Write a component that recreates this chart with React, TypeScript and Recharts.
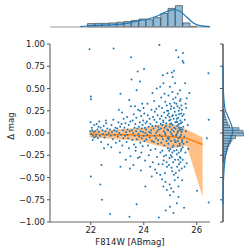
import React from 'react';
import {
  ComposedChart, BarChart, Bar, Scatter, Area, Line, XAxis, YAxis, ReferenceLine,
} from 'recharts';

// ---- data ----
const xDomain: [number, number] = [20.46, 26.5];
const xTicks = [22, 24, 26];
const yTicks = [-1, -0.75, -0.5, -0.25, 0, 0.25, 0.5, 0.75, 1];

// scatter points [F814W, delta mag]
const ptsBright: number[][] = [
  [21.95,0.94],[22.0,0.41],[22.01,0.38],[22.0,-0.49],[21.98,0.02],[22.02,-0.01],[22.05,0.03],[22.08,-0.03],[21.99,0.12],[22.1,0.01],[22.12,-0.05],[22.04,0.06],[22.07,-0.08],[22.13,0.09],
  [22.17,0.02],[22.2,-0.02],[22.22,0.1],[22.25,0.04],[22.27,-0.06],[22.3,0.01],[22.32,0.13],[22.34,-0.03],[22.37,0.06],[22.39,-0.1],[22.36,-0.58],[22.4,-0.36],[22.19,-0.04],[22.29,0.07],
  [22.42,-0.75],[22.44,0.03],[22.46,-0.01],[22.49,0.08],[22.52,-0.05],[22.55,0.02],[22.57,0.14],[22.6,-0.02],[22.62,0.05],[22.65,-0.13],[22.68,0.0],[22.5,-0.17],[22.58,0.11],
  [22.73,-0.91],[22.86,0.95],[22.72,0.04],[22.75,-0.03],[22.78,0.09],[22.8,0.01],[22.83,-0.07],[22.85,0.15],[22.88,0.03],[22.9,-0.02],[22.93,0.06],[22.95,-0.11],[22.97,0.02],[22.77,-0.16],
  [23.06,0.26],[23.12,0.44],[23.18,0.23],[23.12,-0.38],[23.0,0.05],[23.02,-0.04],[23.04,0.12],[23.07,0.0],[23.09,-0.09],[23.11,0.07],[23.14,-0.02],[23.16,0.1],[23.19,-0.14],[23.21,0.03],[23.23,-0.06],[23.24,0.16],[23.1,-0.22],
];
const ptsMid: number[][] = [
  [23.45,0.37],[23.51,0.3],[23.52,0.85],[23.46,-0.94],[23.48,-0.4],[23.27,0.06],[23.29,-0.03],[23.31,0.11],[23.33,0.01],[23.35,-0.1],[23.37,0.18],[23.39,0.04],[23.41,-0.06],[23.43,0.09],[23.44,-0.17],[23.47,0.02],[23.49,0.13],[23.5,-0.26],[23.32,-0.3],[23.38,-0.02],
  [23.54,0.6],[23.73,0.48],[23.77,0.69],[23.73,-0.8],[23.55,0.03],[23.57,-0.08],[23.58,0.14],[23.6,0.0],[23.62,0.21],[23.63,-0.13],[23.65,0.06],[23.66,-0.03],[23.68,0.1],[23.69,-0.2],[23.71,0.02],[23.72,0.17],[23.74,-0.07],[23.76,0.05],[23.78,-0.28],[23.79,0.26],[23.8,-0.01],[23.61,-0.36],[23.67,0.3],[23.7,-0.16],
  [23.86,0.58],[23.86,0.25],[23.94,0.33],[24.01,0.72],[24.06,-0.6],[23.82,0.07],[23.83,-0.04],[23.85,0.12],[23.87,-0.11],[23.88,0.02],[23.9,0.19],[23.91,-0.22],[23.92,0.05],[23.93,-0.06],[23.95,0.09],[23.96,-0.15],[23.97,0.01],[23.98,0.14],[24.0,-0.03],[24.02,0.22],[24.03,-0.09],[24.04,0.06],[24.05,-0.31],[24.07,0.11],[23.89,-0.42],[23.99,0.28],[24.06,0.0],[23.84,-0.27],
  [24.3,-0.49],[24.33,0.45],[24.09,0.04],[24.1,-0.07],[24.12,0.13],[24.13,-0.02],[24.15,0.2],[24.16,-0.14],[24.18,0.07],[24.19,-0.25],[24.2,0.01],[24.22,0.16],[24.23,-0.05],[24.25,0.1],[24.26,-0.19],[24.28,0.03],[24.29,0.26],[24.31,-0.09],[24.32,0.08],[24.34,-0.33],[24.35,0.18],[24.14,0.33],[24.24,-0.38],[24.27,0.0],
  [24.49,0.5],[24.62,0.52],[24.59,0.99],[24.49,-0.45],[24.62,-0.47],[24.57,-0.95],[24.37,0.05],[24.38,-0.1],[24.4,0.15],[24.41,-0.03],[24.42,0.24],[24.44,-0.18],[24.45,0.08],[24.46,-0.06],[24.48,0.12],[24.5,-0.27],[24.51,0.02],[24.52,0.2],[24.53,-0.12],[24.55,0.07],[24.56,-0.35],[24.58,0.3],[24.6,-0.02],[24.61,0.16],[24.63,-0.22],[24.39,0.36],[24.43,-0.41],[24.47,0.27],[24.54,-0.08],[24.57,0.04],[24.64,0.1],[24.46,0.0],
];
const ptsFaint: number[][] = [
  [24.72,0.65],[24.74,0.56],[24.89,0.67],[24.74,-0.6],[24.87,-0.64],[24.83,-0.87],[24.65,0.05],[24.66,-0.11],[24.67,0.19],[24.68,-0.04],[24.69,0.28],[24.7,-0.2],[24.71,0.09],[24.72,-0.07],[24.73,0.14],[24.75,-0.31],[24.76,0.02],[24.77,0.23],[24.78,-0.14],[24.79,0.06],[24.8,-0.45],[24.81,0.35],[24.82,-0.02],[24.83,0.17],[24.84,-0.25],[24.85,0.11],[24.86,-0.09],[24.87,0.31],[24.88,-0.38],[24.89,0.04],[24.9,0.2],[24.91,-0.17],[24.66,0.4],[24.69,-0.52],[24.76,-0.26],[24.78,0.44],[24.8,0.0],[24.84,0.08],[24.86,-0.33],[24.88,0.25],[24.71,-0.35],[24.74,0.12],[24.82,-0.55],[24.9,-0.06],
  [25.06,0.68],[25.14,0.7],[25.09,0.63],[24.99,0.52],[25.18,0.56],[24.99,-0.7],[25.12,-0.66],[25.12,-0.9],[24.99,-0.83],
  [24.92,0.03],[24.93,-0.12],[24.94,0.22],[24.95,-0.05],[24.96,0.14],[24.97,-0.28],[24.98,0.07],[24.99,0.33],[25.0,-0.18],[25.01,0.01],[25.02,0.27],[25.03,-0.09],[25.04,0.11],[25.05,-0.39],[25.06,0.04],[25.07,0.19],[25.08,-0.22],[25.09,0.09],[25.1,-0.03],[25.11,0.38],[25.12,-0.14],[25.13,0.16],[25.14,-0.47],[25.15,0.06],[25.16,-0.08],[25.17,0.24],[25.18,-0.3],[25.19,0.12],
  [24.93,0.42],[24.95,-0.36],[24.97,0.18],[24.98,-0.58],[25.0,0.1],[25.02,-0.25],[25.04,0.3],[25.05,-0.01],[25.07,-0.43],[25.08,0.46],[25.1,0.2],[25.11,-0.33],[25.13,0.02],[25.15,-0.2],[25.16,0.34],[25.17,-0.53],[25.19,-0.1],[24.94,-0.07],[24.96,-0.2],[25.01,0.15],[25.03,-0.62],[25.09,-0.16],[25.14,0.28],[24.92,0.25],[25.06,-0.27],
  [25.22,0.93],[25.31,0.85],[25.31,-0.72],[25.31,-0.6],[25.45,-0.53],[25.25,-0.79],
  [25.2,0.05],[25.21,-0.1],[25.22,0.2],[25.23,-0.02],[25.24,0.13],[25.25,-0.24],[25.26,0.08],[25.27,0.3],[25.28,-0.15],[25.29,0.02],[25.3,0.17],[25.31,-0.06],[25.32,0.25],[25.33,-0.35],[25.34,0.1],[25.35,-0.12],[25.36,0.36],[25.37,-0.04],[25.38,0.14],[25.39,-0.28],[25.4,0.06],[25.41,0.22],[25.42,-0.18],[25.43,0.01],[25.44,0.12],[25.45,-0.08],[25.46,0.19],[25.47,-0.3],
  [25.2,0.4],[25.21,-0.45],[25.23,0.33],[25.24,-0.19],[25.26,-0.38],[25.27,0.0],[25.28,0.44],[25.29,-0.5],[25.3,0.09],[25.32,-0.22],[25.33,0.06],[25.34,-0.42],[25.35,0.28],[25.36,-0.14],[25.37,0.48],[25.38,-0.33],[25.39,0.03],[25.4,-0.2],[25.41,-0.02],[25.42,0.31],[25.43,-0.4],[25.44,-0.1],[25.46,0.04],[25.22,-0.03],[25.25,0.16],[25.29,-0.09],[25.33,0.21],[25.36,-0.27],[25.4,0.11],[25.44,0.26],[25.47,-0.16],[25.3,-0.3],[25.26,0.12],[25.39,0.38],[25.35,0.04],
  [25.48,0.9],[25.47,0.81],[25.5,0.79],[25.56,0.56],[25.72,0.45],[25.62,0.39],[25.52,-0.84],[25.62,-0.34],[25.49,0.07],[25.5,-0.12],[25.51,0.21],[25.53,-0.04],[25.55,0.15],[25.57,-0.22],[25.59,0.02],[25.6,0.28],[25.63,-0.1],[25.66,0.09],[25.68,-0.18],[25.54,-0.38],[25.58,0.33],
  [26.01,-0.65],[26.45,-0.78],[26.44,0.67],[26.45,0.15],[26.38,-0.06],
];

// running median and spread band
const bandX = [21.95, 22.5, 23.0, 23.5, 24.0, 24.5, 25.0, 25.3, 25.62, 26.22];
const bandMed = [-0.01, -0.02, -0.02, -0.02, -0.03, -0.03, -0.04, -0.05, -0.06, -0.13];
const bandLo = [-0.05, -0.06, -0.07, -0.08, -0.1, -0.14, -0.17, -0.16, -0.14, -0.72];
const bandHi = [0.03, 0.03, 0.04, 0.05, 0.06, 0.09, 0.11, 0.08, 0.04, -0.05];

// top marginal histogram (F814W)
const topBinCenters = [22.01, 22.29, 22.56, 22.84, 23.12, 23.39, 23.67, 23.95, 24.22, 24.5, 24.78, 25.05, 25.33, 25.61, 25.88];
const topBinCounts = [15, 16, 16, 18, 21, 24, 29, 35, 32, 41, 59, 82, 94, 18, 3];
const topKdeX = [21.6, 21.85, 22.35, 22.85, 23.36, 23.81, 24.11, 24.49, 24.8, 25.06, 25.18, 25.37, 25.62, 25.87, 26.12, 26.5];
const topKdeY = [1.3, 4.4, 7.5, 10, 16, 28, 34, 47, 65, 75, 76, 69, 44, 18, 6, 1.3];

// right marginal histogram (delta mag)
const rightBinCenters = [0.255, 0.225, 0.195, 0.165, 0.135, 0.105, 0.075, 0.045, 0.015, -0.015, -0.045, -0.075, -0.105, -0.135, -0.165, -0.195, -0.225, -0.255, -0.285, -0.315];
const rightBinCounts = [4, 6, 8, 11, 15, 20, 26, 64, 80, 82, 50, 36, 30, 24, 19, 16, 13, 10, 7, 5];
const rightKdeY = [0.75, 0.6, 0.45, 0.35, 0.26, 0.15, 0.07, 0.015, -0.04, -0.115, -0.23, -0.38, -0.5, -0.65, -0.8];
const rightKdeX = [0, 0.6, 2, 4.4, 9, 25, 36, 39, 33, 23, 12, 5, 2.4, 0.8, 0];

// ---- derived tables ----
const scatterData = [...ptsBright, ...ptsMid, ...ptsFaint].map(([x, y]) => ({ x, y }));
const bandData = bandX.map((x, i) => ({ x, med: bandMed[i], lo: bandLo[i], hi: bandHi[i] }));
const topBins = topBinCenters.map((c, i) => ({ c, n: topBinCounts[i] }));
const topKde = topKdeX.map((x, i) => ({ x, d: topKdeY[i] }));
const rightBins = rightBinCenters.map((c, i) => ({ c, n: rightBinCounts[i] }));
const rightKde = rightKdeY.map((m, i) => ({ m, d: rightKdeX[i] }));

const FONT = 'DejaVu Sans';
const tickStyle = { fontSize: 8.5, fontFamily: FONT, fill: '#222' };
const fmtY = (v: number) => (v < 0 ? '\u2212' : '') + Math.abs(v).toFixed(2);
const HIST_FILL = '#8fbbd9';
const HIST_EDGE = '#2e2e2e';
const BLUE = '#1f77b4';
const ORANGE = '#ff7f0e';

const Dot = (p: any) => <circle cx={p.cx} cy={p.cy} r={1} fill={BLUE} />;

const abs: React.CSSProperties = { position: 'absolute', left: 0, top: 0 };

export default function App() {
  return (
    <div style={{ position: 'absolute', left: 0, top: 0, width: 249, height: 252, background: '#fff' }}>
      {/* main joint scatter */}
      <div style={abs}>
        <ComposedChart width={249} height={252} data={bandData}
          margin={{ top: 44, right: 39, left: 10, bottom: 2 }}>
          <XAxis type="number" dataKey="x" domain={xDomain} ticks={xTicks} allowDataOverflow
            height={28} tickSize={3} tickMargin={2} tick={tickStyle}
            axisLine={{ stroke: '#9a9a9a', strokeWidth: 1.5 }} tickLine={{ stroke: '#555' }}
            label={{ value: 'F814W [ABmag]', position: 'insideBottom', offset: 5, style: { fontSize: 8.5, fontFamily: FONT, fill: '#222' } }} />
          <YAxis type="number" domain={[-1, 1]} ticks={yTicks} allowDataOverflow width={40}
            tickSize={3} tickMargin={2} tick={tickStyle} tickFormatter={fmtY}
            axisLine={{ stroke: '#555' }} tickLine={{ stroke: '#555' }}
            label={{ value: '\u0394 mag', angle: -90, position: 'center', dx: -19, dy: -7, style: { fontSize: 8.5, fontFamily: FONT, fill: '#222' } }} />
          <Scatter data={scatterData} dataKey="y" shape={Dot} isAnimationActive={false} />
          <Area type="linear" dataKey={(d: any) => [d.lo, d.hi]} fill={ORANGE} fillOpacity={0.5}
            stroke="none" isAnimationActive={false} />
          <Line type="linear" dataKey="med" stroke={ORANGE} strokeWidth={1.5} dot={false} isAnimationActive={false} />
        </ComposedChart>
      </div>

      {/* top marginal histogram */}
      <div style={abs}>
        <BarChart width={249} height={28} data={topBins} barCategoryGap={0} barGap={0}
          margin={{ top: 2, right: 39, left: 50, bottom: 1 }}>
          <XAxis type="number" dataKey="c" domain={xDomain} allowDataOverflow hide />
          <YAxis type="number" domain={[0, 110]} hide />
          <ReferenceLine y={0} stroke="#9a9a9a" strokeWidth={1.2} />
          <Bar dataKey="n" fill={HIST_FILL} stroke={HIST_EDGE} strokeWidth={0.6} isAnimationActive={false} />
        </BarChart>
      </div>
      <div style={abs}>
        <ComposedChart width={249} height={28} data={topKde}
          margin={{ top: 2, right: 39, left: 50, bottom: 1 }}>
          <XAxis type="number" dataKey="x" domain={xDomain} allowDataOverflow hide />
          <YAxis type="number" domain={[0, 110]} hide />
          <Line type="monotone" dataKey="d" stroke={BLUE} strokeWidth={1.2} dot={false} isAnimationActive={false} />
        </ComposedChart>
      </div>

      {/* right marginal histogram */}
      <div style={abs}>
        <BarChart width={249} height={252} data={rightBins} layout="vertical" barCategoryGap={0} barGap={0}
          margin={{ top: 44, right: 0, left: 219, bottom: 30 }}>
          <XAxis type="number" domain={[0, 104]} hide />
          <YAxis type="number" dataKey="c" domain={[-1, 1]} reversed ticks={yTicks} allowDataOverflow width={4}
            tickSize={3} tickMargin={0} tickFormatter={() => ''}
            axisLine={{ stroke: '#4a5560', strokeWidth: 1.5 }} tickLine={{ stroke: '#4a5560' }} />
          <Bar dataKey="n" fill={HIST_FILL} stroke={HIST_EDGE} strokeWidth={0.5} isAnimationActive={false} />
        </BarChart>
      </div>
      <div style={abs}>
        <ComposedChart width={249} height={252} data={rightKde} layout="vertical"
          margin={{ top: 44, right: 0, left: 223, bottom: 30 }}>
          <XAxis type="number" domain={[0, 104]} hide />
          <YAxis type="number" dataKey="m" domain={[-1, 1]} reversed allowDataOverflow hide />
          <Line type="monotone" dataKey="d" stroke={BLUE} strokeWidth={1.2} dot={false} isAnimationActive={false} />
        </ComposedChart>
      </div>
    </div>
  );
}
